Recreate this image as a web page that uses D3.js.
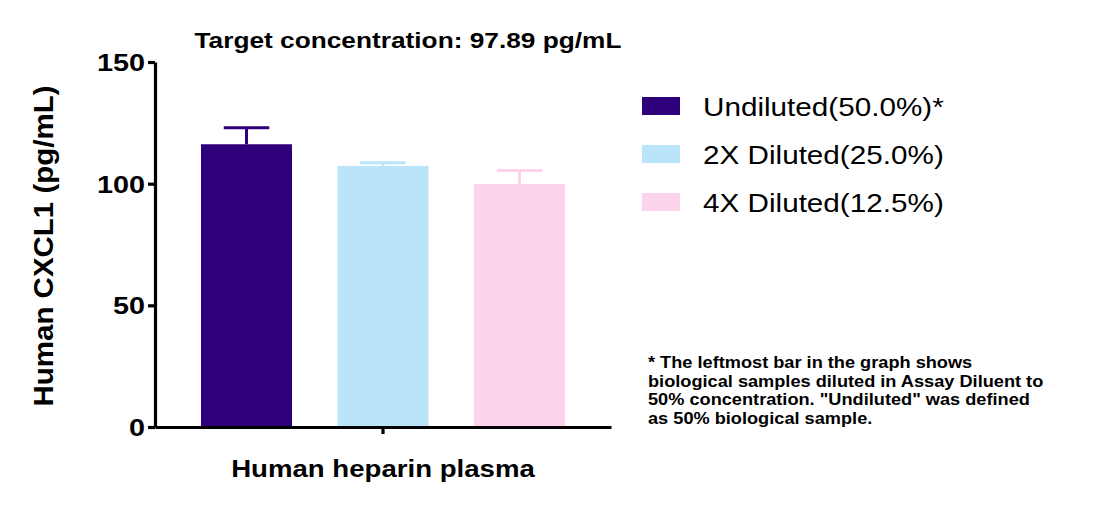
<!DOCTYPE html>
<html lang="en">
  <head>
    <title>CXCL1 dilution</title>
    <script src="https://cdn.jsdelivr.net/npm/d3@7"></script>
    <style>
      body { margin: 0; background-color: white; }
      text { font-family: "Liberation Sans", Arial, sans-serif; fill: black; }
    </style>
  </head>

  <body>
    <div id="container"></div>

<script>
    // data
    const groups = ["Undiluted(50.0%)*", "2X Diluted(25.0%)", "4X Diluted(12.5%)"];
    const means = [116.2, 107.3, 99.9];
    const errUp = [6.8, 1.3, 5.5];
    const colors = ["#2e007b", "#b9e4f9", "#fdd3ec"];
    const sample = ["Human heparin plasma"];
    const yTicks = [0, 50, 100, 150];
    const note = [
      "* The leftmost bar in the graph shows",
      "biological samples diluted in Assay Diluent to",
      "50% concentration. \"Undiluted\" was defined",
      "as 50% biological sample."
    ];

    const W = 1097, H = 507;
    const plot = {left: 155, right: 611, top: 62, bottom: 427};
    const sx = 1.17; // the original text is drawn wide

    const svg = d3.select("#container").append("svg")
      .attr("width", W).attr("height", H);

    const y = d3.scaleLinear().domain([0, 150]).range([plot.bottom, plot.top]);
    const x = d3.scaleBand().domain(groups)
      .range([plot.left, plot.right])
      .paddingInner(1/3).paddingOuter(0.337);
    const outer = d3.scaleBand().domain(sample).range([plot.left, plot.right]);

    // stretch a text horizontally around its anchor point
    function wide(sel, k) {
      sel.each(function() {
        const t = d3.select(this);
        const px = +t.attr("x") || 0, py = +t.attr("y") || 0;
        t.attr("transform", `translate(${px},${py}) scale(${k},1) translate(${-px},${-py})`);
      });
    }

    // bars
    svg.append("g").selectAll("rect")
      .data(groups)
      .enter().append("rect")
        .attr("x", d => x(d))
        .attr("width", x.bandwidth())
        .attr("y", (d, i) => y(means[i]))
        .attr("height", (d, i) => y(0) - y(means[i]))
        .attr("fill", (d, i) => colors[i]);

    // error bars, upper only
    const err = svg.append("g").selectAll("g")
      .data(groups)
      .enter().append("g")
        .attr("stroke", (d, i) => colors[i])
        .attr("stroke-width", 3);
    err.append("line")
      .attr("x1", d => x(d) + x.bandwidth() / 2)
      .attr("x2", d => x(d) + x.bandwidth() / 2)
      .attr("y1", (d, i) => y(means[i]))
      .attr("y2", (d, i) => y(means[i] + errUp[i]));
    err.append("line")
      .attr("x1", d => x(d) + x.bandwidth() / 4)
      .attr("x2", d => x(d) + x.bandwidth() * 3 / 4)
      .attr("y1", (d, i) => y(means[i] + errUp[i]))
      .attr("y2", (d, i) => y(means[i] + errUp[i]));

    // y axis
    const yAx = svg.append("g")
      .attr("transform", `translate(${plot.left},0)`)
      .call(d3.axisLeft(y).tickValues(yTicks).tickSize(7).tickSizeOuter(0).tickPadding(3));
    yAx.selectAll("path, line").attr("stroke", "black").attr("stroke-width", 3.2);
    yAx.selectAll("text")
      .attr("fill", "black")
      .style("font-size", "24px").style("font-weight", "bold")
      .attr("dy", "0.36em")
      .call(wide, 1.2);

    // x axis
    const xAx = svg.append("g")
      .attr("transform", `translate(0,${plot.bottom})`)
      .call(d3.axisBottom(outer).tickSize(7).tickSizeOuter(0).tickPadding(26));
    xAx.selectAll("path, line").attr("stroke", "black").attr("stroke-width", 3.2);
    xAx.selectAll("text")
      .attr("fill", "black")
      .style("font-size", "24px").style("font-weight", "bold")
      .call(wide, 1.15);

    // y label
    svg.append("text")
      .attr("transform", "translate(53,246) rotate(-90)")
      .attr("text-anchor", "middle")
      .style("font-size", "28px").style("font-weight", "bold")
      .attr("textLength", 321).attr("lengthAdjust", "spacingAndGlyphs")
      .text("Human CXCL1 (pg/mL)");

    // title
    svg.append("text")
      .attr("x", 408).attr("y", 48)
      .attr("text-anchor", "middle")
      .style("font-size", "22px").style("font-weight", "bold")
      .text("Target concentration: 97.89 pg/mL")
      .call(wide, sx * 1.02);

    // legend
    const leg = svg.append("g").selectAll("g")
      .data(groups)
      .enter().append("g")
        .attr("transform", (d, i) => `translate(642,${97 + i * 48})`);
    leg.append("rect")
      .attr("width", 38).attr("height", 18)
      .attr("fill", (d, i) => colors[i]);
    leg.append("text")
      .attr("x", 61).attr("y", 19)
      .style("font-size", "26.5px")
      .text(d => d)
      .call(wide, 1.12);

    // footnote
    svg.append("g").selectAll("text")
      .data(note)
      .enter().append("text")
        .attr("x", 648)
        .attr("y", (d, i) => 368 + i * 18.6)
        .style("font-size", "17px").style("font-weight", "bold")
        .text(d => d)
        .call(wide, 1.07);
</script>
  </body>
</html>
